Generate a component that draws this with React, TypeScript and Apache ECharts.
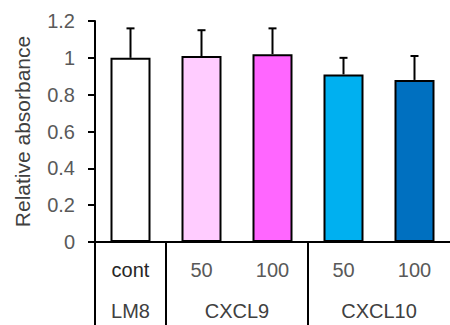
import React, { useEffect, useRef } from "react";
import * as echarts from "echarts";

const categories = ["cont", "50", "100", "50", "100"];
const means = [1.0, 1.01, 1.02, 0.91, 0.88];
const errors = [0.16, 0.14, 0.14, 0.09, 0.13];
const barColors = ["#FFFFFF", "#FFCCFF", "#FF66FF", "#00B0F0", "#0070C0"];
const groups = ["LM8", "CXCL9", "CXCL10"];
const groupSizes = [1, 2, 2];
const yTicks = { min: 0, max: 1.2, interval: 0.2 };
const yTitle = "Relative absorbance";

export default function App() {
  const ref = useRef<HTMLDivElement>(null);
  useEffect(() => {
    document.body.style.margin = "0";
    if (!ref.current) return;
    const chart = echarts.init(ref.current, undefined, { renderer: "svg" });

    const starts: number[] = [];
    const centers: number[] = [];
    let acc = 0;
    groupSizes.forEach((s) => {
      starts.push(acc);
      centers.push(acc + s / 2);
      acc += s;
    });

    const font = "Liberation Sans";
    chart.setOption({
      animation: false,
      backgroundColor: "#ffffff",
      grid: { left: 95, top: 21, width: 360, height: 221 },
      xAxis: [
        {
          type: "category",
          data: categories,
          position: "bottom",
          axisLine: { lineStyle: { color: "#000", width: 2 } },
          axisTick: { show: false },
          axisLabel: {
            fontSize: 20,
            fontFamily: font,
            margin: 18,
            color: (v: string, i: number) => (i === 0 ? "#262626" : "#595959"),
          },
        },
        {
          type: "value",
          min: 0,
          max: acc,
          position: "bottom",
          axisLine: { show: false },
          splitLine: { show: false },
          axisTick: {
            show: true,
            customValues: starts,
            length: 84,
            lineStyle: { color: "#000", width: 2 },
          },
          axisLabel: {
            customValues: centers,
            color: "#404040",
            fontSize: 20,
            fontFamily: font,
            margin: 59,
            formatter: (v: number) => {
              const i = centers.findIndex((c) => Math.abs(c - v) < 1e-6);
              return i >= 0 ? groups[i] : "";
            },
          },
        },
      ],
      yAxis: {
        type: "value",
        min: yTicks.min,
        max: yTicks.max,
        interval: yTicks.interval,
        name: yTitle,
        nameLocation: "middle",
        nameGap: 62,
        nameTextStyle: { color: "#404040", fontSize: 21, fontFamily: font },
        axisLine: { show: true, lineStyle: { color: "#000", width: 2 } },
        axisTick: { show: true, length: 7, lineStyle: { color: "#000", width: 2 } },
        axisLabel: { color: "#595959", fontSize: 20, fontFamily: font, margin: 20 },
        splitLine: { show: false },
      },
      series: [
        {
          type: "bar",
          xAxisIndex: 0,
          barWidth: 40,
          data: means.map((m, i) => ({
            value: m,
            itemStyle: { color: barColors[i], borderColor: "#000", borderWidth: 2 },
          })),
          z: 2,
        },
        {
          type: "custom",
          xAxisIndex: 0,
          z: 1,
          data: means.map((m, i) => [i, m, m + errors[i]]),
          renderItem: (params: any, api: any) => {
            const x = api.value(0);
            const lo = api.coord([x, api.value(1)]);
            const hi = api.coord([x, api.value(2)]);
            const style = { stroke: "#000", lineWidth: 2 };
            return {
              type: "group",
              children: [
                { type: "line", shape: { x1: lo[0], y1: lo[1], x2: hi[0], y2: hi[1] }, style },
                { type: "line", shape: { x1: hi[0] - 4, y1: hi[1], x2: hi[0] + 4, y2: hi[1] }, style },
              ],
            };
          },
        },
      ],
    });
    return () => chart.dispose();
  }, []);
  return <div ref={ref} style={{ width: 450, height: 325 }} />;
}
